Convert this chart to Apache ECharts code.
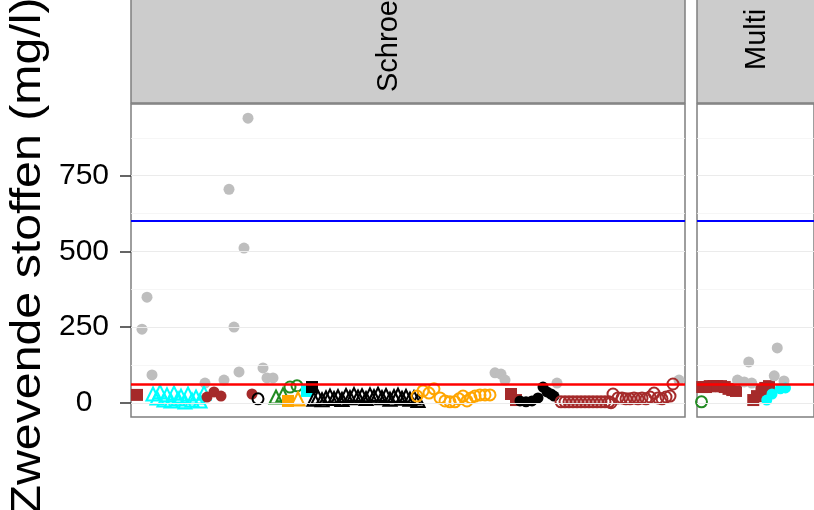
<!DOCTYPE html>
<html>
<head>
<meta charset="utf-8">
<script src="https://cdn.jsdelivr.net/npm/echarts@6/dist/echarts.min.js"></script>
<style>
  html, body { margin: 0; padding: 0; background: #fff; }
  #chart { width: 814px; height: 510px; }
</style>
</head>
<body>
<div id="chart"></div>
<script>
// Zwevende stoffen per monster, volgnummer (x) tegen concentratie in mg/l (y)
const yTicks = [0, 250, 500, 750];
const yMinorTicks = [125, 375, 625, 875];
const normBlue = 600;   // bovengrens
const normRed = 60;     // richtwaarde

// Paneel "Schroef"
const greyDots1 = [[58.5,940],[49,705],[56.5,511],[8,349],[5.5,243],[51.5,250],[10.5,92],[54,102],[66,115],[37,65],[46.5,75],[68,82],[71,82],[182,99],[185,95],[187,75],[213,65],[274,75]];
const brownSquares1 = [[3,26],[190,29],[192.5,9]];
const cyanTriangles1 = [[11,29],[13,16],[14.5,36],[16.5,9],[18,26],[20,6],[21.5,32],[23.5,13],[25,22],[27,3],[28.5,29],[30.5,9],[32.5,19],[34.5,6],[36.5,32]];
const brownDots1 = [[38,19],[41.5,36],[45,22],[60.5,29]];
const blackOpenCircles1 = [[63.5,13]];
const greenTriangles1 = [[72.5,19],[76,26]];
const greenCircles1 = [[79.5,52],[83,56]];
const orangeSquares1 = [[78.5,6]];
const orangeTriangles1 = [[83.5,13]];
const cyanSquares1 = [[88,39]];
const blackSquares1 = [[90.5,52]];
const blackTrianglesX = [91.5,93.5,95.5,97.5,99.5,101.5,103.5,105.5,107.5,109.5,111.5,113.5,115.5,117.5,119.5,121.5,123.5,125.5,127.5,129.5,131.5,133.5,135.5,137.5,139.5,141.5,143.5];
const blackTrianglesY = [12,18,10,16,22,14,20,11,24,17,27,19,23,14,26,20,28,17,24,12,20,25,15,21,12,17,8];
const orangeCircles1 = [[143,22],[146,39],[149,32],[151.5,46],[154.5,16],[157,6],[159.5,3],[162,3],[164,13],[166,22],[168,6],[170,16],[172,22],[174.5,26],[177,26],[179.5,26]];
const blackDots1 = [[194.5,6],[197.5,3],[200.5,6],[203.5,16],[206,52],[208,36],[210,29],[211.5,22]];
const brownCirclesX = [215,217,219,221,223,225,227,229,231,233,235,237,239,240,241,243.5,245.5,247.5,249.5,251.5,253.5,255.5,257.5,259.5,261.5,263.5,265.5,267.5,269.5,271];
const brownCirclesY = [3,3,3,3,3,3,3,3,3,3,3,3,3,0,29,16,16,13,13,16,13,16,13,19,32,16,13,19,22,62];

// Paneel "Multi"
const greenCircles2 = [[3,3]];
const brownSquares2 = [[3.5,52],[6,52],[8.5,55],[11,55],[13.5,55],[16,55],[18.5,52],[21,46],[23.5,42],[26,39],[37.5,9],[40,22],[43,39],[45.5,49],[48,55]];
const greyDots2 = [[27,75],[31.5,69],[34.5,135],[36.5,65],[51.5,89],[53.5,181],[58,72]];
const cyanDots2 = [[46.5,9],[50,29],[55.5,46],[59,49]];

const zip = (xs, ys) => xs.map((x, i) => [x, ys[i]]);

const C = {
  grey: '#BEBEBE', brown: '#A52A2A', cyan: '#00FFFF', black: '#000000',
  green: '#228B22', orange: '#FFA500'
};

function pts(panel, data, shape, color, filled) {
  const open = !filled;
  let size = 11;
  if (shape === 'triangle') size = 13;
  if (shape === 'rect') size = 12;
  return {
    type: 'scatter', xAxisIndex: panel, yAxisIndex: panel, z: 3,
    symbol: shape, symbolSize: size, data: data, silent: true,
    itemStyle: open
      ? { color: 'rgba(0,0,0,0)', borderColor: color, borderWidth: shape === 'triangle' ? 2.1 : 2, opacity: 1 }
      : { color: color, borderWidth: 0, opacity: 1 }
  };
}

function lineSeries(panel, lines, z) {
  return {
    type: 'scatter', xAxisIndex: panel, yAxisIndex: panel, data: [], z: z, silent: true,
    markLine: {
      silent: true, symbol: ['none', 'none'], animation: false,
      label: { show: false },
      data: lines
    }
  };
}

const gridLines = yTicks.map(v => ({ yAxis: v, lineStyle: { color: '#EBEBEB', width: 1.2, type: 'solid' } }))
  .concat(yMinorTicks.map(v => ({ yAxis: v, lineStyle: { color: '#F4F4F4', width: 0.8, type: 'solid' } })));
const normLines = [
  { yAxis: normBlue, lineStyle: { color: '#0000FF', width: 2, type: 'solid' } },
  { yAxis: normRed, lineStyle: { color: '#FF0000', width: 2.5, type: 'solid' } }
];

const panels = [
  { left: 131, width: 554, xmax: 277, label: 'Schroef', labelX: 389, labelY: 92 },
  { left: 697, width: 156, xmax: 78, label: 'Multi', labelX: 757, labelY: 70 }
];
const yMin = -47, yMax = 987;

const option = {
  animation: false,
  backgroundColor: '#fff',
  grid: panels.map(p => ({
    left: p.left, top: 104, width: p.width, height: 313,
    show: true, backgroundColor: '#fff', borderColor: '#7F7F7F', borderWidth: 1.5
  })),
  xAxis: panels.map((p, i) => ({
    type: 'value', gridIndex: i, min: 0, max: p.xmax,
    axisLine: { show: false }, axisTick: { show: false },
    axisLabel: { show: false }, splitLine: { show: false }
  })),
  yAxis: panels.map((p, i) => ({
    type: 'value', gridIndex: i, min: yMin, max: yMax,
    axisLine: { show: false },
    axisTick: i === 0
      ? { show: true, length: 11, customValues: yTicks, lineStyle: { color: '#333333', width: 1.5 } }
      : { show: false },
    axisLabel: i === 0
      ? { show: true, customValues: yTicks, margin: 47, align: 'center', fontSize: 30, color: '#000',
          fontFamily: 'Liberation Sans' }
      : { show: false },
    splitLine: { show: false }
  })),
  graphic: [
    {
      type: 'text', x: 28, y: 256, rotation: Math.PI / 2, scaleX: 1.15,
      style: { text: 'Zwevende stoffen (mg/l)', x: 0, y: 0, textAlign: 'center', textVerticalAlign: 'middle',
               font: '42px "Liberation Sans"', fill: '#000' }
    }
  ].concat(panels.map(p => ({
    type: 'rect', shape: { x: p.left, y: -120, width: p.width, height: 223 },
    style: { fill: '#CCCCCC', stroke: '#7F7F7F', lineWidth: 1.5 }
  }))).concat(panels.map(p => ({
    type: 'text', x: p.labelX, y: p.labelY, rotation: Math.PI / 2,
    style: { text: p.label, x: 0, y: 0, textAlign: 'left', textVerticalAlign: 'middle',
             font: '29px "Liberation Sans"', fill: '#000' }
  }))),
  series: [
    lineSeries(0, gridLines, 1),
    lineSeries(1, gridLines, 1),
    pts(0, greyDots1, 'circle', C.grey, true),
    pts(0, brownSquares1, 'rect', C.brown, true),
    pts(0, cyanTriangles1, 'triangle', C.cyan, false),
    pts(0, brownDots1, 'circle', C.brown, true),
    pts(0, blackOpenCircles1, 'circle', C.black, false),
    pts(0, greenTriangles1, 'triangle', C.green, false),
    pts(0, greenCircles1, 'circle', C.green, false),
    pts(0, orangeSquares1, 'rect', C.orange, true),
    pts(0, orangeTriangles1, 'triangle', C.orange, false),
    pts(0, cyanSquares1, 'rect', C.cyan, true),
    pts(0, blackSquares1, 'rect', C.black, true),
    pts(0, zip(blackTrianglesX, blackTrianglesY), 'triangle', C.black, false),
    pts(0, orangeCircles1, 'circle', C.orange, false),
    pts(0, blackDots1, 'circle', C.black, true),
    pts(0, zip(brownCirclesX, brownCirclesY), 'circle', C.brown, false),
    pts(1, greenCircles2, 'circle', C.green, false),
    pts(1, brownSquares2, 'rect', C.brown, true),
    pts(1, greyDots2, 'circle', C.grey, true),
    pts(1, cyanDots2, 'circle', C.cyan, true),
    lineSeries(0, normLines, 5),
    lineSeries(1, normLines, 5)
  ]
};

const chart = echarts.init(document.getElementById('chart'), null, { renderer: 'canvas' });
chart.setOption(option);
</script>
</body>
</html>
